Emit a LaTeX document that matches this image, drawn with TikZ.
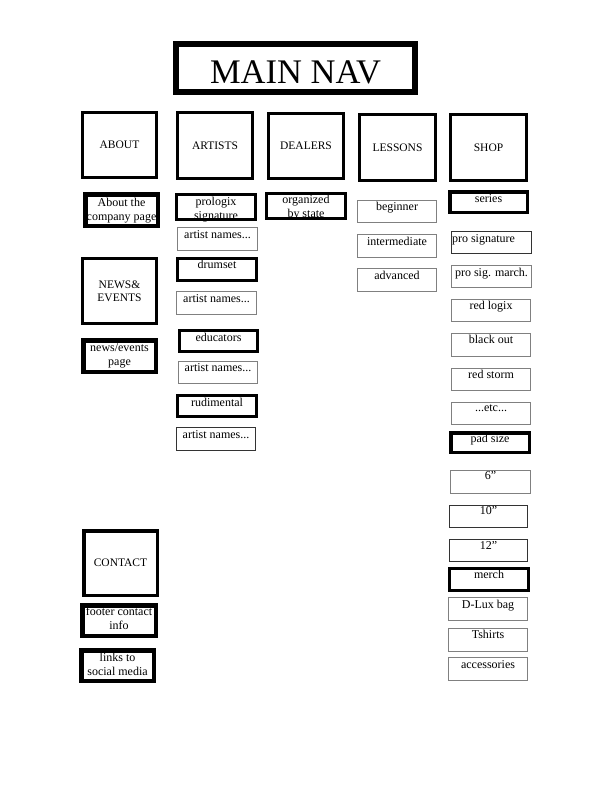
\documentclass[tikz,border=0pt]{standalone}
\usepackage{fontspec}
\setmainfont{Liberation Serif}
\newcommand\lblfont{\fontsize{12}{14}\selectfont}
\newcommand\hdfont{\fontsize{11.5}{13}\selectfont}
\tikzset{
  box/.style={draw, rectangle, inner sep=0pt, outer sep=0pt},
  thk/.style={box, draw=black},
  thin/.style={box, draw=black!50},
  thind/.style={box, draw=black!80},
  head/.style={box, draw=black, align=center, font=\hdfont},
  lbl/.style={anchor=north, inner sep=0pt, align=center, font=\lblfont},
}
% #1 style, #2 line width, #3 name, #4 x1, #5 y1, #6 x2, #7 y2, #8 baseline offset, #9 text
\newcommand\mkbox[9]{%
  \pgfmathsetmacro\bxw{#6-#4-#2}%
  \pgfmathsetmacro\bxh{#7-#5-#2}%
  \pgfmathsetmacro\bxcx{(#4+#6)/2}%
  \pgfmathsetmacro\bxcy{(#5+#7)/2}%
  \pgfmathsetmacro\bxys{9.8+#2/2-#8-1}%
  \node[#1, line width=#2pt, minimum width=\bxw pt, minimum height=\bxh pt,
    label={[lbl, yshift=\bxys pt]north:{\strut #9}}] (#3) at (\bxcx,\bxcy) {};}
% #1 name, #2 line width, #3 x1, #4 y1, #5 x2, #6 y2, #7 text
\newcommand\hdbox[7]{%
  \pgfmathsetmacro\bxw{#5-#3-#2}%
  \pgfmathsetmacro\bxh{#6-#4-#2}%
  \pgfmathsetmacro\bxcx{(#3+#5)/2}%
  \pgfmathsetmacro\bxcy{(#4+#6)/2}%
  \node[head, line width=#2pt, minimum width=\bxw pt, minimum height=\bxh pt] (#1) at (\bxcx,\bxcy) {#7};}
\begin{document}
\begin{tikzpicture}[x=1pt,y=-1pt]
\useasboundingbox (0,0) rectangle (612,792);
\fill[white] (0,0) rectangle (612,792);
% main nav
\node[thk, line width=6pt, minimum width=239pt, minimum height=48pt,
  label={[anchor=base, inner sep=0pt, font=\fontsize{34.5}{40}\selectfont, yshift=-4pt]center:{MAIN NAV}}]
  (mainnav) at (295.5,68) {};
% headings
\hdbox{about}{3}{81}{111}{158}{179}{ABOUT}
\hdbox{artists}{3}{176}{111}{254}{180}{ARTISTS}
\hdbox{dealers}{3}{267}{112}{345}{180}{DEALERS}
\hdbox{lessons}{3.3}{358}{113}{437}{182}{LESSONS}
\hdbox{shop}{3.3}{449}{113}{528}{182}{SHOP}
\hdbox{news}{3}{81}{257}{158}{325}{NEWS\&\\EVENTS}
\hdbox{contact}{3.5}{82}{529}{159}{597}{CONTACT}
% about column
\mkbox{thk}{4.5}{company}{83}{192}{160}{228}{13}{About the\\company page}
\mkbox{thk}{4.5}{newspage}{81}{338}{158}{374}{12.5}{news/events\\page}
\mkbox{thk}{4.5}{footer}{80}{603}{158}{638}{11}{footer contact\\info}
\mkbox{thk}{4.5}{links}{79}{648}{156}{683}{12}{links to\\social media}
% artists column
\mkbox{thk}{3}{prologix}{175}{193}{257}{221}{11}{prologix\\signature}
\mkbox{thin}{1.2}{artistA}{177}{227}{258}{251}{10}{artist names...}
\mkbox{thk}{3.3}{drumset}{176}{257}{258}{282}{10}{drumset}
\mkbox{thin}{1.2}{artistB}{176}{291}{257}{315}{10}{artist names...}
\mkbox{thk}{3}{educators}{178}{329}{259}{353}{11}{educators}
\mkbox{thin}{1.2}{artistC}{178}{361}{258}{384}{9}{artist names...}
\mkbox{thk}{3}{rudimental}{176}{394}{258}{418}{11}{rudimental}
\mkbox{thind}{1.2}{artistD}{176}{427}{256}{451}{10}{artist names...}
% dealers column
\mkbox{thk}{3.3}{organized}{265}{192}{347}{220}{10}{organized\\by state}
% lessons column
\mkbox{thin}{1.2}{beginner}{357}{200}{437}{223}{9}{beginner}
\mkbox{thin}{1.2}{intermediate}{357}{234}{437}{258}{10}{intermediate}
\mkbox{thin}{1.2}{advanced}{357}{268}{437}{292}{10}{advanced}
% shop column
\mkbox{thk}{3.5}{series}{448}{190}{529}{214}{11.5}{series}
\mkbox{thind}{1.2}{prosig}{451}{231}{532}{254}{10}{\hbox{pro signature\kern16pt}}
\mkbox{thin}{1.2}{prosigm}{451}{265}{532}{288}{10}{pro sig. march.}
\mkbox{thin}{1.2}{redlogix}{451}{299}{531}{322}{9}{red logix}
\mkbox{thin}{1.2}{blackout}{451}{333}{531}{357}{9}{black out}
\mkbox{thin}{1.2}{redstorm}{451}{368}{531}{391}{9}{red storm}
\mkbox{thin}{1.2}{etc}{451}{402}{531}{425}{8}{...etc...}
\mkbox{thk}{3.5}{padsize}{449}{431}{531}{454}{10.5}{pad size}
\mkbox{thin}{1.2}{six}{450}{470}{531}{494}{8}{6”}
\mkbox{thind}{1.2}{ten}{449}{505}{528}{528}{8}{10”}
\mkbox{thind}{1.2}{twelve}{449}{539}{528}{562}{9}{12”}
\mkbox{thk}{3.3}{merch}{448}{567}{530}{592}{10}{merch}
\mkbox{thin}{1.2}{dlux}{448}{597}{528}{621}{10}{D-Lux bag}
\mkbox{thin}{1.2}{tshirts}{448}{628}{528}{652}{9}{Tshirts}
\mkbox{thin}{1.2}{accessories}{448}{657}{528}{681}{10}{accessories}
\end{tikzpicture}
\end{document}
